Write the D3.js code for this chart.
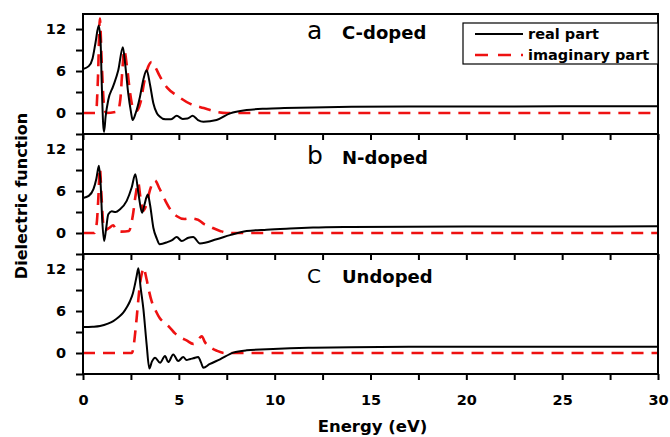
<!DOCTYPE html>
<html>
<head>
<meta charset="utf-8">
<script src="https://cdn.jsdelivr.net/npm/d3@7"></script>
<style>
body { margin: 0; background: #fff; }
text { font-family: "DejaVu Sans", sans-serif; }
</style>
</head>
<body>
<svg id="chart" width="670" height="437"></svg>
<script>
// values: [energy (eV), dielectric function]
var cDopedReal = [[0,6.3],[0.3,6.7],[0.5,7.8],[0.65,10],[0.82,12.5],[0.92,10],[0.98,4],[1.05,-1.5],[1.1,-2.7],[1.18,-0.5],[1.32,1.9],[1.57,3.8],[1.84,6.1],[2.08,9.4],[2.2,7],[2.36,2.8],[2.5,0.2],[2.59,-1.0],[2.75,0],[2.97,2.3],[3.15,4.8],[3.32,6.1],[3.5,4],[3.67,1.4],[3.85,0],[4.0,-0.5],[4.3,-0.9],[4.6,-0.9],[4.89,-0.4],[5.2,-0.85],[5.45,-0.8],[5.72,-0.4],[6.0,-1.0],[6.28,-1.24],[6.97,-1.0],[7.67,-0.05],[8.54,0.43],[9.58,0.62],[10.5,0.7],[12,0.8],[14,0.88],[17,0.92],[20,0.94],[25,0.95],[30,0.96]];
var cDopedImag = [[0,0],[0.68,0],[0.78,5],[0.88,13.5],[0.98,7],[1.1,1],[1.2,0],[1.8,0.2],[1.95,2],[2.05,6],[2.15,9],[2.3,6.5],[2.45,3],[2.6,0.8],[2.8,0.3],[3.0,1.5],[3.2,4.5],[3.4,6.6],[3.58,7.3],[3.8,6.4],[4.0,5.3],[4.4,3.6],[4.9,2.5],[5.6,1.3],[6.3,0.7],[7.0,0.15],[7.5,0],[30,0]];

var nDopedReal = [[0,5.0],[0.3,5.3],[0.55,6.3],[0.7,7.8],[0.83,9.6],[0.92,7],[1.0,2],[1.1,-1.14],[1.2,0.5],[1.32,2.67],[1.5,3.1],[1.7,3.0],[1.93,3.4],[2.28,4.6],[2.54,6.5],[2.73,8.4],[2.9,5.5],[3.08,2.9],[3.2,4],[3.38,5.5],[3.5,4],[3.67,0.76],[3.85,-0.8],[4.0,-1.6],[4.4,-1.3],[4.65,-1.0],[4.89,-0.57],[5.15,-1.14],[5.5,-0.67],[5.75,-0.57],[6.1,-1.5],[6.97,-0.9],[7.67,-0.3],[8.54,0.28],[9.58,0.48],[10.8,0.64],[12,0.77],[14,0.86],[17,0.91],[20,0.93],[25,0.94],[30,0.95]];
var nDopedImag = [[0,0],[0.6,0],[0.72,1.5],[0.8,5],[0.88,9.3],[0.97,5],[1.05,1.5],[1.15,0.4],[1.35,0.7],[1.58,1.1],[1.75,0.3],[2.0,0.2],[2.4,0.3],[2.6,2.5],[2.75,5.5],[2.88,7.2],[3.0,5.0],[3.15,3.2],[3.3,4],[3.5,6.2],[3.75,7.5],[4.0,6.3],[4.3,4.6],[4.6,3.2],[4.9,2.4],[5.3,2.0],[5.6,2.1],[6.0,1.9],[6.3,1.3],[6.7,0.8],[7.15,0.3],[7.6,0],[30,0]];

var undopedReal = [[0,3.7],[0.5,3.75],[0.89,3.86],[1.3,4.2],[1.58,4.57],[1.85,5.1],[2.1,5.76],[2.3,6.6],[2.45,7.4],[2.6,8.5],[2.71,9.8],[2.8,11],[2.89,12.1],[3.0,9.5],[3.15,6.3],[3.32,1.24],[3.46,-2.2],[3.6,-1.2],[3.76,-0.67],[4.02,-1.4],[4.28,-0.43],[4.45,-1.3],[4.71,-0.2],[4.97,-1.14],[5.23,-0.57],[5.4,-1.0],[5.6,-0.85],[5.75,-0.76],[6.01,-0.57],[6.15,-1.3],[6.28,-2.1],[6.6,-1.6],[7.15,-0.9],[7.84,0.05],[8.54,0.38],[9.58,0.52],[10.8,0.67],[12,0.76],[14,0.84],[17,0.88],[20,0.9],[25,0.9],[30,0.9]];
var undopedImag = [[0,0],[2.55,0],[2.63,0.76],[2.72,2.8],[2.8,5.0],[2.9,8],[2.97,9.8],[3.08,11.5],[3.15,12.2],[3.32,10.5],[3.45,8.8],[3.58,7.4],[3.8,6.0],[4.0,5.0],[4.3,4.2],[4.54,3.6],[4.8,2.8],[5.1,2.2],[5.4,1.8],[5.75,1.3],[5.9,1.5],[6.1,2.2],[6.2,2.4],[6.35,1.6],[6.6,0.9],[7.0,0.3],[7.4,0],[30,0]];

var panelLetters = ["a", "b", "C"];
var panelNames = ["C-doped", "N-doped", "Undoped"];
var legendLabels = ["real part", "imaginary part"];
var xTicks = [0, 2.5, 5, 7.5, 10, 12.5, 15, 17.5, 20, 22.5, 25, 27.5, 30];
var yTicks = [-3, 0, 3, 6, 9, 12];

var panels = [
    {letter: panelLetters[0], name: panelNames[0], real: cDopedReal, imag: cDopedImag, textY: 39},
    {letter: panelLetters[1], name: panelNames[1], real: nDopedReal, imag: nDopedImag, textY: 164},
    {letter: panelLetters[2], name: panelNames[2], real: undopedReal, imag: undopedImag, textY: 283}
];

var marginLeft = 83, marginRight = 658, plotTop = 14, panelH = 120;

var x = d3.scaleLinear().domain([0, 30]).range([marginLeft, marginRight]);

var svg = d3.select("#chart");

var line = d3.line()
    .curve(d3.curveMonotoneX);

panels.forEach(function(p, i) {
    var y0 = plotTop + i * panelH;
    var y = d3.scaleLinear().domain([-3, 14.15]).range([y0 + panelH, y0]);

    line.x(function(d) { return x(d[0]); })
        .y(function(d) { return y(d[1]); });

    svg.append("clipPath").attr("id", "clip" + i)
        .append("rect")
        .attr("x", marginLeft).attr("y", y0)
        .attr("width", marginRight - marginLeft).attr("height", panelH);

    var g = svg.append("g").attr("clip-path", "url(#clip" + i + ")");

    g.append("path")
        .datum(p.imag)
        .attr("d", line)
        .attr("fill", "none")
        .attr("stroke", "#ee1111")
        .attr("stroke-width", 2.6)
        .attr("stroke-dasharray", "12,8");

    g.append("path")
        .datum(p.real)
        .attr("d", line)
        .attr("fill", "none")
        .attr("stroke", "#000")
        .attr("stroke-width", 2);

    // y axis
    var yAxis = svg.append("g")
        .attr("transform", "translate(" + marginLeft + ",0)")
        .call(d3.axisLeft(y).tickValues(yTicks).tickSize(7).tickPadding(10)
            .tickFormat(function(d) { return d % 6 === 0 ? d : ""; }));
    yAxis.select(".domain").remove();
    yAxis.selectAll("line").attr("stroke-width", 2);
    yAxis.selectAll("text")
        .style("font-size", "14.5px").style("font-weight", "bold")
        .style("font-family", "DejaVu Sans, sans-serif");

    // x axis at bottom of each panel
    var last = i === panels.length - 1;
    var xAxis = svg.append("g")
        .attr("transform", "translate(0," + (y0 + panelH) + ")")
        .call(d3.axisBottom(x).tickValues(xTicks).tickSize(6).tickPadding(15)
            .tickFormat(function(d) { return last && d % 5 === 0 ? d : ""; }));
    xAxis.select(".domain").remove();
    xAxis.selectAll("line").attr("stroke-width", 2);
    xAxis.selectAll("text")
        .style("font-size", "14.5px").style("font-weight", "bold")
        .style("font-family", "DejaVu Sans, sans-serif");

    // frame
    svg.append("rect")
        .attr("x", marginLeft).attr("y", y0)
        .attr("width", marginRight - marginLeft).attr("height", panelH)
        .attr("fill", "none").attr("stroke", "#000").attr("stroke-width", 2);

    // panel label
    svg.append("text")
        .attr("x", 307).attr("y", p.textY)
        .style("font-size", p.letter === "C" ? "20px" : "25px")
        .text(p.letter);
    svg.append("text")
        .attr("x", 342).attr("y", p.textY)
        .style("font-size", "18px").style("font-weight", "bold")
        .text(p.name);
});

// legend
var leg = svg.append("g");
leg.append("rect")
    .attr("x", 463).attr("y", 23).attr("width", 195).attr("height", 41)
    .attr("fill", "#fff").attr("stroke", "#000").attr("stroke-width", 1.2);
leg.append("line")
    .attr("x1", 475).attr("x2", 523).attr("y1", 34).attr("y2", 34)
    .attr("stroke", "#000").attr("stroke-width", 2);
leg.append("line")
    .attr("x1", 475).attr("x2", 523).attr("y1", 55).attr("y2", 55)
    .attr("stroke", "#ee1111").attr("stroke-width", 2.6)
    .attr("stroke-dasharray", "13,10");
leg.selectAll("text.leg")
    .data(legendLabels)
    .enter().append("text")
    .attr("class", "leg")
    .attr("x", 528)
    .attr("y", function(d, i) { return 39 + i * 21; })
    .style("font-size", "14.5px").style("font-weight", "bold")
    .text(function(d) { return d; });

// axis titles
svg.append("text")
    .attr("x", (marginLeft + marginRight) / 2 + 2).attr("y", 432)
    .attr("text-anchor", "middle")
    .style("font-size", "16.5px").style("font-weight", "bold")
    .text("Energy (eV)");

svg.append("text")
    .attr("transform", "translate(27," + 196 + ") rotate(-90)")
    .attr("text-anchor", "middle")
    .style("font-size", "16px").style("font-weight", "bold")
    .text("Dielectric function");
</script>
</body>
</html>
